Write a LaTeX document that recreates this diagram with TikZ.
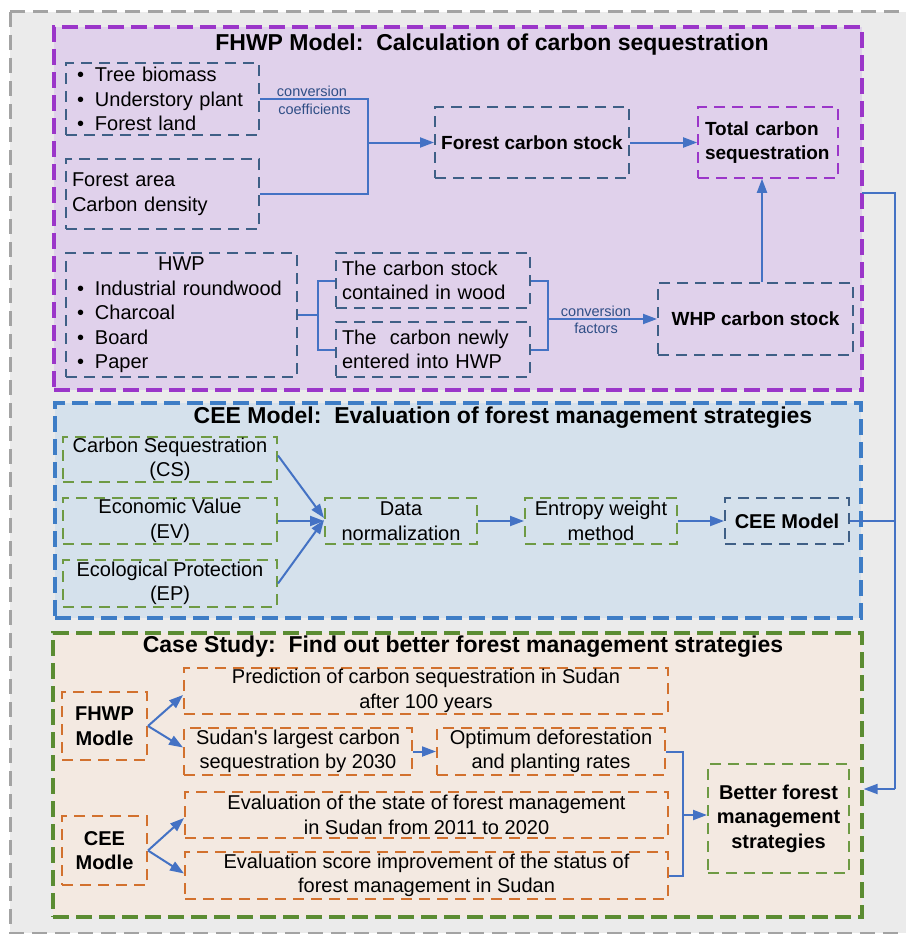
\documentclass[tikz,border=0pt]{standalone}
\usepackage{fontspec}
\setmainfont{Liberation Sans}
\usetikzlibrary{arrows.meta}
\definecolor{bgray}{HTML}{EBEBEB}
\definecolor{ogray}{HTML}{A3A3A3}
\definecolor{lpurp}{HTML}{E0D1EB}
\definecolor{purp}{HTML}{9B36C9}
\definecolor{lblue}{HTML}{D5E1EC}
\definecolor{sblue}{HTML}{3E7DC6}
\definecolor{lpeach}{HTML}{F3E9E1}
\definecolor{sgreen}{HTML}{5B8C32}
\definecolor{bgreen}{HTML}{6E9A44}
\definecolor{orng}{HTML}{D2712E}
\definecolor{dblue}{HTML}{3F5F86}
\definecolor{cblue}{HTML}{4472C4}
\definecolor{lblt}{HTML}{2F4E86}
\begin{document}
\begin{tikzpicture}[x=1pt,y=-1pt,
  sec/.style={draw, line width=3.2pt, dash pattern=on 16pt off 7pt, inner sep=0pt},
  bx/.style={draw, line width=2pt, dash pattern=on 11pt off 7pt, inner sep=0pt, text=black},
  body/.style={font=\fontsize{20}{24.5}\selectfont},
  bbody/.style={font=\bfseries\fontsize{20}{24.5}\selectfont},
  ttl/.style={font=\bfseries\fontsize{23}{27}\selectfont, inner sep=0pt},
  lab/.style={font=\fontsize{14.5}{18}\selectfont, text=lblt, inner sep=0pt},
  conn/.style={draw=cblue, line width=2pt},
  arr/.style={conn, -{Triangle[length=14pt,width=10pt]}}]
\useasboundingbox (0,0) rectangle (905,934);
\fill[white] (0,0) rectangle (905,934);
\draw[fill=bgray, draw=ogray, line width=3pt, dash pattern=on 15pt off 8pt] (10,12) rectangle (925,933);

% sections
\node[sec, draw=purp, fill=lpurp, minimum width=808pt, minimum height=363pt] (S1) at (458,208.5) {};
\node[sec, draw=sblue, fill=lblue, minimum width=806pt, minimum height=215pt] (S2) at (458,510.5) {};
\node[sec, draw=sgreen, fill=lpeach, minimum width=809pt, minimum height=284pt] (S3) at (457.5,775) {};

% titles
\node[ttl] (t1) at (492,45) {FHWP Model:~~Calculation of carbon sequestration};
\node[ttl] (t2) at (503,418) {CEE Model:~~Evaluation of forest management strategies};
\node[ttl] (t3) at (463,647) {Case Study:~~Find out better forest management strategies};

% FHWP section
\node[bx, draw=dblue, body, minimum width=193pt, minimum height=72pt, inner xsep=11pt, text width=171pt, align=left] (b1) at (162.5,99)
  {\makebox[18pt][l]{\textbullet}Tree biomass\\\makebox[18pt][l]{\textbullet}Understory plant\\\makebox[18pt][l]{\textbullet}Forest land};
\node[bx, draw=dblue, body, minimum width=193pt, minimum height=70pt, inner xsep=6pt, text width=181pt, align=left] (b2) at (162.5,194)
  {Forest area\\Carbon density};
\node[bx, draw=dblue, font=\bfseries\fontsize{19}{24}\selectfont, minimum width=194pt, minimum height=71pt] (fcs) at (532,142.5) {Forest carbon stock};
\node[bx, draw=purp, line width=1.6pt, font=\bfseries\fontsize{19}{24.5}\selectfont, minimum width=140pt, minimum height=71pt, inner xsep=7pt, text width=126pt, align=left] (tcs) at (768,142.5)
  {Total carbon\\sequestration};
\node[bx, draw=dblue, body, minimum width=231pt, minimum height=124pt, inner xsep=11pt, text width=209pt, align=left] (hwp) at (181.5,315)
  {\makebox[209pt][c]{HWP}\\\makebox[18pt][l]{\textbullet}Industrial roundwood\\\makebox[18pt][l]{\textbullet}Charcoal\\\makebox[18pt][l]{\textbullet}Board\\\makebox[18pt][l]{\textbullet}Paper};
\node[bx, draw=dblue, body, minimum width=194pt, minimum height=55pt, inner xsep=6pt, text width=182pt, align=left] (cw) at (433,280.5)
  {The carbon stock\\contained in wood};
\node[bx, draw=dblue, body, minimum width=194pt, minimum height=55pt, inner xsep=6pt, text width=182pt, align=left] (cn) at (433,349.5)
  {The~ carbon newly\\entered into HWP};
\node[bx, draw=dblue, font=\bfseries\fontsize{19}{24}\selectfont, minimum width=195pt, minimum height=72pt] (whp) at (755.5,319) {WHP carbon stock};

\node[lab] (l1) at (312,91) {conversion};
\node[lab] (l2) at (314.5,109) {coefficients};
\node[lab] (l3) at (596,311) {conversion};
\node[lab] (l4) at (596,328) {factors};

\coordinate (j1) at (368,142.5);
\draw[conn] (b1.east) -| (j1);
\draw[conn] (b2.east) -| (j1);
\draw[arr] (j1) -- (fcs.west);
\draw[arr] (fcs.east) -- (tcs.west);
\draw[arr] ([xshift=6.5pt]whp.north) -- ([xshift=6.5pt]whp.north |- tcs.south);
\coordinate (j2) at (318,315);
\draw[conn] (hwp.east) -- (j2);
\draw[conn] (j2) |- (cw.west);
\draw[conn] (j2) |- (cn.west);
\coordinate (j3) at (548,319);
\draw[conn] (cw.east) -| (j3);
\draw[conn] (cn.east) -| (j3);
\draw[arr] (j3) -- (whp.west);

% CEE section
\node[bx, draw=bgreen, body, minimum width=214pt, minimum height=45pt, align=center] (cs) at (170,459.5) {Carbon Sequestration\\(CS)};
\node[bx, draw=bgreen, body, minimum width=214pt, minimum height=46pt, align=center] (ev) at (170,521) {Economic Value\\(EV)};
\node[bx, draw=bgreen, body, minimum width=214pt, minimum height=47pt, align=center] (ep) at (170,583.5) {Ecological Protection\\(EP)};
\node[bx, draw=bgreen, body, minimum width=152pt, minimum height=46pt, align=center] (dn) at (401,521) {Data\\normalization};
\node[bx, draw=bgreen, body, minimum width=152pt, minimum height=46pt, align=center] (ew) at (601,521) {Entropy weight\\method};
\node[bx, draw=dblue, bbody, minimum width=124pt, minimum height=46pt] (cee) at (787,521) {CEE Model};
\draw[arr] ([yshift=4pt]cs.east) -- ([yshift=3pt]dn.west);
\draw[arr] (ev.east) -- (dn.west);
\draw[arr] (ep.east) -- ([yshift=1pt]dn.west);
\draw[arr] (dn.east) -- (ew.west);
\draw[arr] (ew.east) -- (cee.west);

% Case study
\node[bx, draw=orng, bbody, minimum width=85pt, minimum height=68pt, align=center] (fm) at (104.5,726) {FHWP\\Modle};
\node[bx, draw=orng, bbody, minimum width=85pt, minimum height=69pt, align=center] (cm) at (104.5,850.5) {CEE\\Modle};
\node[bx, draw=orng, body, minimum width=484pt, minimum height=46pt, align=center] (pr) at (426,691) {Prediction of carbon sequestration in Sudan\\after 100 years};
\node[bx, draw=orng, body, minimum width=228pt, minimum height=47pt, align=center] (sl) at (298,751.5) {Sudan\textquotesingle s largest carbon\\sequestration by 2030};
\node[bx, draw=orng, body, minimum width=228pt, minimum height=47pt, align=center] (op) at (551,751.5) {Optimum deforestation\\and planting rates};
\node[bx, draw=orng, body, minimum width=483pt, minimum height=46pt, align=center] (es) at (426.5,815) {Evaluation of the state of forest management\\in Sudan from 2011 to 2020};
\node[bx, draw=orng, body, minimum width=483pt, minimum height=47pt, align=center] (sc) at (426.5,875.5) {Evaluation score improvement of the status of\\forest management in Sudan};
\node[bx, draw=bgreen, bbody, minimum width=141pt, minimum height=109pt, align=center] (bt) at (778.5,818.5) {Better forest\\management\\strategies};

\draw[arr] (fm.east) -- ([yshift=-4pt]pr.west);
\draw[arr] (fm.east) -- ([yshift=4pt]sl.west);
\draw[arr] (cm.east) -- ([yshift=-3pt]es.west);
\draw[arr] (cm.east) -- ([yshift=2pt]sc.west);
\draw[arr] (sl.east) -- (op.west);
\coordinate (j4) at (683,815);
\draw[conn] (op.east) -| (j4);
\draw[conn] (sc.east) -| (j4);
\draw[arr] (j4) -- (j4 -| bt.west);

% right-hand connector
\coordinate (p1) at (862,193);
\coordinate (r2) at (895,789);
\draw[conn] (p1) -| (r2);
\draw[conn] (cee.east) -- (cee.east -| r2);
\draw[arr] (r2) -- (S3.east |- r2);
\end{tikzpicture}
\end{document}
